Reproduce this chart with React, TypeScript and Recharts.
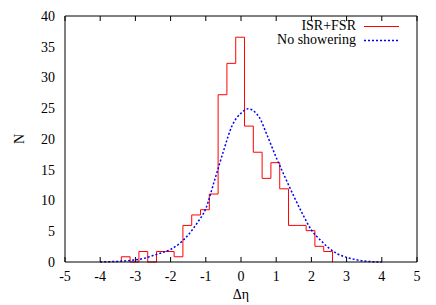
import { Legend, Line, LineChart, XAxis, YAxis } from 'recharts'

// histogram bin edges (Δη) and weighted counts per bin
const binEdges = [
  -3.4, -3.15, -2.9, -2.65, -2.4, -2.15, -1.9, -1.65, -1.4, -1.15, -0.9, -0.65, -0.4, -0.15, 0.1, 0.35, 0.6,
  0.85, 1.1, 1.35, 1.6, 1.85, 2.1, 2.35, 2.6,
]
const binCounts = [
  0.85, 0, 1.7, 0, 1.7, 1.7, 0.85, 5.95, 7.65, 8.5, 11.05, 27.2, 32.3, 36.55, 22.1, 17.85, 13.6, 16.15, 11.9,
  5.95, 5.95, 5.1, 2.55, 1.7,
]

// "No showering" curve
const curveEta = [
  -4, -3.75, -3.5, -3.25, -3, -2.75, -2.5, -2.25, -2, -1.75, -1.5, -1.25, -1, -0.75, -0.5, -0.25, 0, 0.2, 0.5,
  0.75, 1, 1.25, 1.5, 1.75, 2, 2.25, 2.5, 2.75, 3, 3.25, 3.5, 3.75, 4,
]
const curveN = [
  0, 0.05, 0.1, 0.2, 0.35, 0.6, 1.05, 1.5, 2.05, 3.0, 4.4, 6.3, 8.7, 13.3, 18.0, 22.2, 24.2, 24.9, 23.7, 20.5,
  17.0, 13.8, 10.7, 7.8, 5.2, 3.6, 2.25, 1.3, 0.75, 0.4, 0.15, 0.05, 0,
]

const xTicks = [-5, -4, -3, -2, -1, 0, 1, 2, 3, 4, 5]
const yTicks = [0, 5, 10, 15, 20, 25, 30, 35, 40]

const histData = [
  { eta: binEdges[0], n: 0 },
  ...binCounts.map((n, i) => ({ eta: binEdges[i], n })),
  { eta: binEdges[binEdges.length - 1], n: 0 },
]
const curveData = curveEta.map((eta, i) => ({ eta, n: curveN[i] }))

const font = 'Liberation Serif'
const textStyle = { fontFamily: font, fontSize: 14, fill: '#000' }
const noTick = () => <g />

const XTick = ({ x, y, payload }: any) => (
  <text dy="0.71em" fontFamily={font} style={textStyle} textAnchor="middle" x={x} y={y}>
    {payload.value}
  </text>
)

const YTick = ({ x, y, payload }: any) => (
  <text dy="0.35em" fontFamily={font} style={textStyle} textAnchor="end" x={x} y={y}>
    {payload.value}
  </text>
)

const XLabel = ({ viewBox }: any) => (
  <text
    fontFamily={font}
    style={textStyle}
    textAnchor="middle"
    x={viewBox.x + viewBox.width / 2}
    y={viewBox.y + viewBox.height - 6}
  >
    Δη
  </text>
)

const YLabel = ({ viewBox }: any) => {
  const cx = viewBox.x + 19
  const cy = viewBox.y + viewBox.height / 2
  return (
    <text
      dy="0.35em"
      fontFamily={font}
      style={textStyle}
      textAnchor="middle"
      transform={`rotate(-90, ${cx}, ${cy})`}
      x={cx}
      y={cy}
    >
      N
    </text>
  )
}

const legendItems = [
  { name: 'ISR+FSR', color: '#ff0000', dash: undefined, width: 1 },
  { name: 'No showering', color: '#0000ff', dash: '2 2', width: 1.5 },
]

function LegendBox() {
  return (
    <div style={{ fontFamily: font, fontSize: 14, lineHeight: '14px', color: '#000' }}>
      {legendItems.map(item => (
        <div key={item.name} style={{ display: 'flex', justifyContent: 'flex-end', alignItems: 'center' }}>
          <span>{item.name}</span>
          <svg height={14} width={43}>
            <line
              stroke={item.color}
              strokeDasharray={item.dash}
              strokeWidth={item.width}
              x1={8}
              x2={43}
              y1={7.5}
              y2={7.5}
            />
          </svg>
        </div>
      ))}
    </div>
  )
}

export default function App() {
  return (
    <div style={{ position: 'absolute', left: 0, top: 0 }}>
      <LineChart data={curveData} height={305} margin={{ top: 16, right: 19, bottom: 0, left: 0 }} width={436}>
        <XAxis
          axisLine={{ stroke: '#000' }}
          dataKey="eta"
          domain={[-5, 5]}
          height={43}
          label={<XLabel />}
          tick={<XTick />}
          tickLine={false}
          tickMargin={3}
          tickSize={6}
          ticks={xTicks}
          type="number"
          xAxisId="b"
        />
        <XAxis
          axisLine={false}
          dataKey="eta"
          domain={[-5, 5]}
          mirror
          tick={noTick}
          tickLine={{ stroke: '#000' }}
          tickSize={5}
          ticks={xTicks}
          type="number"
          xAxisId="bm"
        />
        <XAxis
          axisLine={{ stroke: '#000' }}
          dataKey="eta"
          domain={[-5, 5]}
          mirror
          orientation="top"
          tick={noTick}
          tickLine={{ stroke: '#000' }}
          tickSize={5}
          ticks={xTicks}
          type="number"
          xAxisId="t"
        />
        <YAxis
          axisLine={{ stroke: '#000' }}
          domain={[0, 40]}
          label={<YLabel />}
          tick={<YTick />}
          tickLine={false}
          tickMargin={4}
          tickSize={6}
          ticks={yTicks}
          type="number"
          width={65}
          yAxisId="l"
        />
        <YAxis
          axisLine={false}
          domain={[0, 40]}
          mirror
          tick={noTick}
          tickLine={{ stroke: '#000' }}
          tickSize={5}
          ticks={yTicks}
          type="number"
          yAxisId="lm"
        />
        <YAxis
          axisLine={{ stroke: '#000' }}
          domain={[0, 40]}
          mirror
          orientation="right"
          tick={noTick}
          tickLine={{ stroke: '#000' }}
          tickSize={5}
          ticks={yTicks}
          type="number"
          yAxisId="r"
        />
        <Legend
          align="center"
          content={<LegendBox />}
          layout="vertical"
          verticalAlign="middle"
          wrapperStyle={{ top: 19, right: 37, left: 'auto', width: 'auto' }}
        />
        <Line
          data={histData}
          dataKey="n"
          dot={false}
          isAnimationActive={false}
          name="ISR+FSR"
          stroke="#ff0000"
          strokeWidth={1}
          type="stepAfter"
          xAxisId="b"
          yAxisId="l"
        />
        <Line
          data={curveData}
          dataKey="n"
          dot={false}
          isAnimationActive={false}
          name="No showering"
          stroke="#0000ff"
          strokeDasharray="2 2"
          strokeWidth={1.5}
          type="monotone"
          xAxisId="b"
          yAxisId="l"
        />
      </LineChart>
    </div>
  )
}
